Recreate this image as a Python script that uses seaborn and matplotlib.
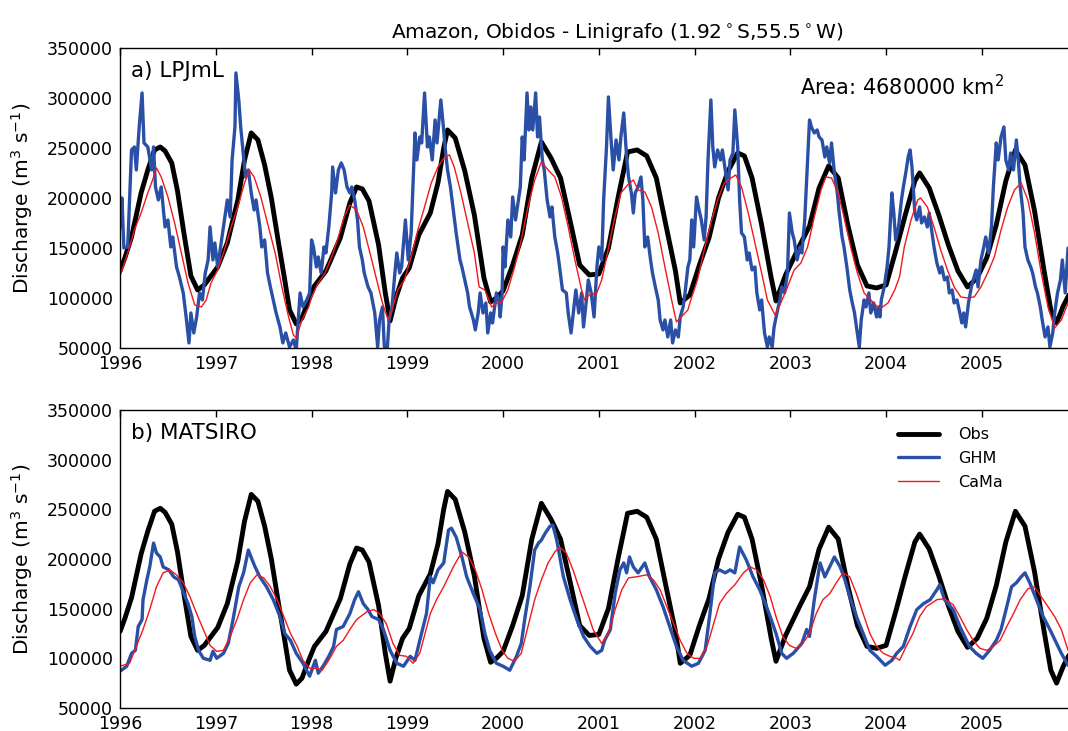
import numpy as np
import pandas as pd
import seaborn as sns
from matplotlib import pyplot as plt

# discharge values, in thousands of m3/s
OBS_YEAR = [1996.00, 1996.05, 1996.12, 1996.22, 1996.29, 1996.36, 1996.42, 1996.47, 1996.54, 1996.60,
            1996.67, 1996.74, 1996.81, 1996.88, 1996.95, 1997.02, 1997.12, 1997.23, 1997.30, 1997.37,
            1997.44, 1997.51, 1997.58, 1997.65, 1997.72, 1997.77, 1997.84, 1997.90, 1997.97, 1998.03,
            1998.15, 1998.30, 1998.40, 1998.47, 1998.53, 1998.60, 1998.70, 1998.77, 1998.82, 1998.88,
            1998.95, 1999.02, 1999.12, 1999.24, 1999.32, 1999.38, 1999.42, 1999.50, 1999.60, 1999.70,
            1999.80, 1999.87, 1999.93, 2000.00, 2000.10, 2000.20, 2000.30, 2000.40, 2000.50, 2000.60,
            2000.70, 2000.80, 2000.90, 2001.00, 2001.10, 2001.20, 2001.30, 2001.40, 2001.50, 2001.60,
            2001.70, 2001.80, 2001.85, 2001.95, 2002.05, 2002.15, 2002.25, 2002.35, 2002.45, 2002.52,
            2002.60, 2002.70, 2002.80, 2002.85, 2002.95, 2003.10, 2003.20, 2003.30, 2003.40, 2003.50,
            2003.60, 2003.70, 2003.80, 2003.90, 2004.00, 2004.10, 2004.20, 2004.30, 2004.35, 2004.45,
            2004.55, 2004.65, 2004.75, 2004.85, 2004.95, 2005.05, 2005.15, 2005.25, 2005.35, 2005.45,
            2005.55, 2005.65, 2005.72, 2005.78, 2005.85, 2005.92]
OBS_Q = [127, 140, 161, 205, 228, 248, 251, 247, 235, 207,
         163, 122, 108, 113, 122, 131, 155, 198, 238, 265,
         258, 233, 200, 158, 118, 88, 74, 80, 98, 112,
         127, 160, 195, 211, 209, 197, 153, 105, 77, 100,
         120, 130, 163, 185, 215, 250, 268, 260, 227, 183,
         120, 96, 100, 107, 133, 163, 220, 256, 240, 220,
         177, 133, 123, 124, 150, 200, 246, 248, 242, 220,
         173, 127, 95, 103, 133, 160, 200, 227, 245, 242,
         220, 173, 120, 97, 123, 153, 172, 210, 232, 220,
         173, 133, 112, 110, 113, 147, 183, 217, 225, 210,
         183, 153, 127, 111, 120, 140, 173, 217, 248, 233,
         187, 127, 88, 75, 92, 105]

LPJ_GHM_YEAR = [1996.00, 1996.02, 1996.04, 1996.08, 1996.12, 1996.15, 1996.17, 1996.20, 1996.23, 1996.25,
                1996.29, 1996.33, 1996.35, 1996.37, 1996.40, 1996.43, 1996.47, 1996.50, 1996.53, 1996.55,
                1996.59, 1996.62, 1996.66, 1996.69, 1996.72, 1996.74, 1996.77, 1996.80, 1996.83, 1996.86,
                1996.89, 1996.92, 1996.94, 1996.97, 1996.99, 1997.02, 1997.06, 1997.09, 1997.12, 1997.15,
                1997.17, 1997.20, 1997.21, 1997.24, 1997.26, 1997.28, 1997.31, 1997.34, 1997.37, 1997.40,
                1997.42, 1997.46, 1997.48, 1997.51, 1997.54, 1997.57, 1997.60, 1997.63, 1997.67, 1997.70,
                1997.73, 1997.77, 1997.81, 1997.84, 1997.88, 1997.91, 1997.95, 1997.98, 1998.00, 1998.02,
                1998.05, 1998.07, 1998.10, 1998.13, 1998.15, 1998.18, 1998.21, 1998.22, 1998.25, 1998.28,
                1998.31, 1998.34, 1998.37, 1998.40, 1998.42, 1998.45, 1998.48, 1998.50, 1998.53, 1998.55,
                1998.59, 1998.62, 1998.66, 1998.69, 1998.71, 1998.74, 1998.76, 1998.79, 1998.81, 1998.84,
                1998.87, 1998.89, 1998.92, 1998.94, 1998.98, 1999.01, 1999.04, 1999.08, 1999.10, 1999.13,
                1999.15, 1999.18, 1999.21, 1999.23, 1999.26, 1999.29, 1999.31, 1999.35, 1999.37, 1999.40,
                1999.42, 1999.45, 1999.48, 1999.51, 1999.55, 1999.57, 1999.60, 1999.63, 1999.65, 1999.69,
                1999.71, 1999.74, 1999.76, 1999.79, 1999.82, 1999.84, 1999.87, 1999.89, 1999.93, 1999.955,
                1999.97, 1999.99, 2000.00, 2000.02, 2000.05, 2000.08, 2000.10, 2000.13, 2000.15, 2000.18,
                2000.20, 2000.22, 2000.25, 2000.27, 2000.29, 2000.31, 2000.34, 2000.36, 2000.38, 2000.41,
                2000.43, 2000.46, 2000.49, 2000.51, 2000.54, 2000.57, 2000.59, 2000.62, 2000.66, 2000.68,
                2000.71, 2000.74, 2000.76, 2000.79, 2000.82, 2000.84, 2000.87, 2000.89, 2000.92, 2000.95,
                2000.98, 2001.00, 2001.03, 2001.05, 2001.08, 2001.10, 2001.13, 2001.15, 2001.18, 2001.21,
                2001.23, 2001.26, 2001.29, 2001.31, 2001.34, 2001.36, 2001.38, 2001.41, 2001.44, 2001.46,
                2001.48, 2001.51, 2001.54, 2001.56, 2001.59, 2001.62, 2001.64, 2001.67, 2001.69, 2001.72,
                2001.75, 2001.77, 2001.80, 2001.83, 2001.85, 2001.88, 2001.90, 2001.93, 2001.95, 2001.97,
                2001.99, 2002.02, 2002.04, 2002.07, 2002.10, 2002.12, 2002.14, 2002.17, 2002.19, 2002.21,
                2002.24, 2002.27, 2002.29, 2002.32, 2002.35, 2002.37, 2002.40, 2002.42, 2002.45, 2002.47,
                2002.49, 2002.52, 2002.55, 2002.57, 2002.60, 2002.63, 2002.65, 2002.68, 2002.70, 2002.73,
                2002.76, 2002.78, 2002.81, 2002.83, 2002.86, 2002.89, 2002.91, 2002.94, 2002.97, 2002.99,
                2003.02, 2003.04, 2003.07, 2003.10, 2003.12, 2003.15, 2003.18, 2003.20, 2003.22, 2003.25,
                2003.28, 2003.30, 2003.33, 2003.36, 2003.38, 2003.41, 2003.43, 2003.46, 2003.49, 2003.51,
                2003.54, 2003.56, 2003.59, 2003.62, 2003.64, 2003.67, 2003.69, 2003.72, 2003.74, 2003.77,
                2003.79, 2003.82, 2003.84, 2003.87, 2003.90, 2003.92, 2003.935, 2003.95, 2003.98, 2004.01,
                2004.03, 2004.06, 2004.08, 2004.10, 2004.13, 2004.16, 2004.18, 2004.21, 2004.23, 2004.25,
                2004.27, 2004.30, 2004.32, 2004.35, 2004.37, 2004.40, 2004.43, 2004.45, 2004.48, 2004.50,
                2004.53, 2004.56, 2004.58, 2004.61, 2004.64, 2004.66, 2004.69, 2004.71, 2004.74, 2004.77,
                2004.79, 2004.81, 2004.83, 2004.86, 2004.89, 2004.91, 2004.94, 2004.96, 2004.99, 2005.02,
                2005.04, 2005.07, 2005.10, 2005.12, 2005.15, 2005.17, 2005.20, 2005.23, 2005.25, 2005.28,
                2005.30, 2005.33, 2005.36, 2005.38, 2005.40, 2005.43, 2005.45, 2005.48, 2005.51, 2005.53,
                2005.56, 2005.58, 2005.61, 2005.63, 2005.66, 2005.69, 2005.71, 2005.74, 2005.76, 2005.79,
                2005.82, 2005.84, 2005.87, 2005.90]
LPJ_GHM_Q = [170, 200, 150, 151, 248, 251, 228, 271, 305, 255,
             251, 228, 251, 211, 198, 211, 171, 178, 151, 161,
             131, 121, 105, 81, 55, 85, 65, 81, 105, 98,
             125, 138, 171, 138, 155, 131, 158, 178, 198, 181,
             238, 271, 325, 298, 271, 251, 221, 228, 205, 188,
             198, 171, 151, 158, 125, 111, 98, 85, 71, 55,
             65, 51, 58, 48, 105, 91, 98, 105, 158, 151,
             131, 141, 125, 151, 145, 171, 205, 231, 205, 228,
             235, 228, 211, 205, 211, 198, 178, 151, 138, 125,
             111, 105, 85, 51, 78, 91, 51, 48, 78, 91,
             125, 145, 125, 131, 178, 138, 165, 265, 238, 261,
             255, 305, 251, 261, 238, 278, 255, 298, 278, 245,
             228, 211, 188, 165, 138, 131, 118, 105, 91, 78,
             68, 85, 105, 85, 95, 65, 85, 75, 105, 98,
             81, 105, 151, 131, 178, 161, 201, 178, 191, 211,
             261, 238, 305, 268, 291, 268, 305, 261, 281, 238,
             228, 198, 181, 191, 161, 145, 131, 108, 105, 85,
             65, 91, 108, 85, 105, 71, 98, 118, 105, 81,
             131, 151, 138, 198, 251, 301, 255, 228, 258, 238,
             261, 285, 241, 221, 205, 185, 205, 211, 221, 198,
             151, 161, 138, 125, 111, 98, 78, 68, 78, 61,
             78, 55, 68, 61, 81, 91, 105, 131, 138, 178,
             151, 201, 191, 178, 158, 181, 238, 298, 251, 231,
             248, 238, 248, 228, 208, 238, 245, 288, 251, 198,
             165, 161, 138, 145, 128, 131, 105, 88, 98, 65,
             51, 61, 51, 71, 85, 98, 111, 105, 125, 185,
             165, 158, 138, 151, 145, 178, 238, 278, 271, 265,
             268, 261, 258, 241, 251, 235, 255, 225, 205, 185,
             161, 151, 131, 108, 98, 85, 71, 51, 78, 98,
             91, 105, 85, 95, 81, 91, 81, 98, 111, 131,
             151, 205, 185, 158, 171, 198, 211, 228, 241, 248,
             231, 185, 178, 191, 175, 181, 171, 185, 165, 151,
             135, 125, 131, 118, 121, 105, 108, 95, 98, 85,
             75, 85, 71, 95, 111, 118, 128, 111, 138, 151,
             161, 145, 171, 211, 255, 238, 261, 271, 238, 228,
             245, 228, 258, 238, 211, 185, 151, 138, 131, 125,
             111, 105, 91, 78, 61, 71, 51, 65, 85, 105,
             118, 138, 105, 150]

LPJ_CAMA_YEAR = [1996.00, 1996.08, 1996.15, 1996.22, 1996.29, 1996.34, 1996.38, 1996.43, 1996.50, 1996.57,
                 1996.64, 1996.71, 1996.78, 1996.85, 1996.90, 1996.95, 1997.02, 1997.09, 1997.16, 1997.23,
                 1997.30, 1997.35, 1997.40, 1997.47, 1997.54, 1997.62, 1997.69, 1997.76, 1997.81, 1997.84,
                 1997.90, 1997.97, 1998.00, 1998.07, 1998.14, 1998.21, 1998.28, 1998.34, 1998.40, 1998.47,
                 1998.54, 1998.61, 1998.68, 1998.74, 1998.80, 1998.83, 1998.90, 1998.97, 1999.04, 1999.11,
                 1999.18, 1999.25, 1999.32, 1999.39, 1999.44, 1999.49, 1999.56, 1999.63, 1999.70, 1999.75,
                 1999.81, 1999.88, 1999.94, 1999.98, 2000.05, 2000.12, 2000.19, 2000.26, 2000.33, 2000.40,
                 2000.47, 2000.54, 2000.61, 2000.68, 2000.75, 2000.82, 2000.85, 2000.92, 2000.97, 2001.03,
                 2001.09, 2001.16, 2001.23, 2001.30, 2001.36, 2001.41, 2001.48, 2001.55, 2001.62, 2001.69,
                 2001.76, 2001.81, 2001.86, 2001.93, 2001.96, 2002.03, 2002.10, 2002.17, 2002.24, 2002.31,
                 2002.38, 2002.43, 2002.49, 2002.56, 2002.63, 2002.70, 2002.76, 2002.84, 2002.90, 2002.97,
                 2003.04, 2003.11, 2003.18, 2003.25, 2003.32, 2003.37, 2003.43, 2003.50, 2003.56, 2003.63,
                 2003.70, 2003.77, 2003.84, 2003.91, 2003.95, 2004.02, 2004.09, 2004.14, 2004.19, 2004.26,
                 2004.33, 2004.36, 2004.43, 2004.50, 2004.57, 2004.64, 2004.71, 2004.78, 2004.85, 2004.92,
                 2004.99, 2005.06, 2005.13, 2005.20, 2005.27, 2005.34, 2005.41, 2005.48, 2005.55, 2005.62,
                 2005.69, 2005.76, 2005.83, 2005.90]
LPJ_CAMA_Q = [122, 145, 168, 185, 205, 218, 230, 221, 201, 175,
              145, 115, 93, 91, 98, 115, 128, 148, 171, 191,
              215, 228, 221, 201, 175, 145, 111, 81, 63, 60,
              78, 91, 101, 115, 125, 141, 161, 181, 193, 188,
              171, 145, 118, 95, 78, 85, 108, 118, 141, 168,
              191, 215, 231, 241, 243, 231, 205, 175, 145, 111,
              108, 91, 95, 95, 108, 131, 158, 191, 218, 236,
              228, 221, 201, 171, 138, 108, 98, 105, 103, 118,
              145, 178, 205, 213, 218, 208, 206, 191, 165, 131,
              98, 76, 81, 88, 98, 118, 148, 175, 198, 215,
              220, 223, 211, 185, 155, 125, 98, 83, 95, 111,
              128, 135, 151, 181, 208, 221, 220, 205, 181, 151,
              125, 105, 98, 91, 90, 95, 108, 121, 151, 178,
              198, 200, 191, 171, 148, 128, 111, 101, 100, 101,
              111, 125, 141, 168, 191, 208, 215, 198, 165, 125,
              91, 70, 78, 95]

MAT_GHM_YEAR = [1996.00, 1996.07, 1996.12, 1996.16, 1996.19, 1996.23, 1996.24, 1996.28, 1996.31, 1996.35,
                1996.38, 1996.42, 1996.45, 1996.51, 1996.56, 1996.61, 1996.64, 1996.68, 1996.71, 1996.75,
                1996.78, 1996.82, 1996.87, 1996.94, 1996.97, 1997.01, 1997.08, 1997.13, 1997.18, 1997.24,
                1997.29, 1997.34, 1997.38, 1997.41, 1997.46, 1997.53, 1997.60, 1997.67, 1997.72, 1997.78,
                1997.84, 1997.91, 1997.98, 1998.04, 1998.07, 1998.12, 1998.18, 1998.23, 1998.26, 1998.33,
                1998.40, 1998.45, 1998.49, 1998.54, 1998.59, 1998.63, 1998.70, 1998.75, 1998.82, 1998.89,
                1998.96, 1999.03, 1999.08, 1999.13, 1999.20, 1999.24, 1999.27, 1999.32, 1999.38, 1999.43,
                1999.46, 1999.51, 1999.57, 1999.62, 1999.69, 1999.76, 1999.81, 1999.86, 1999.93, 2000.00,
                2000.07, 2000.14, 2000.19, 2000.23, 2000.28, 2000.33, 2000.37, 2000.40, 2000.44, 2000.49,
                2000.52, 2000.56, 2000.63, 2000.70, 2000.77, 2000.84, 2000.91, 2000.98, 2001.03, 2001.06,
                2001.12, 2001.17, 2001.22, 2001.26, 2001.29, 2001.32, 2001.36, 2001.41, 2001.48, 2001.53,
                2001.60, 2001.67, 2001.74, 2001.81, 2001.88, 2001.97, 2002.04, 2002.11, 2002.16, 2002.21,
                2002.26, 2002.32, 2002.37, 2002.42, 2002.47, 2002.54, 2002.61, 2002.68, 2002.75, 2002.80,
                2002.85, 2002.91, 2002.96, 2003.03, 2003.12, 2003.17, 2003.20, 2003.25, 2003.31, 2003.36,
                2003.41, 2003.46, 2003.52, 2003.57, 2003.62, 2003.69, 2003.76, 2003.83, 2003.90, 2003.99,
                2004.06, 2004.11, 2004.18, 2004.25, 2004.32, 2004.39, 2004.46, 2004.53, 2004.56, 2004.61,
                2004.70, 2004.77, 2004.87, 2004.94, 2005.01, 2005.08, 2005.15, 2005.20, 2005.26, 2005.31,
                2005.36, 2005.41, 2005.45, 2005.50, 2005.57, 2005.64, 2005.71, 2005.78, 2005.83, 2005.90]
MAT_GHM_Q = [87, 92, 105, 108, 132, 139, 159, 179, 192, 216,
             206, 202, 192, 189, 182, 179, 172, 162, 155, 142,
             122, 108, 100, 98, 107, 100, 105, 115, 139, 172,
             186, 209, 199, 192, 182, 172, 159, 142, 125, 118,
             105, 95, 82, 98, 85, 92, 102, 112, 129, 132,
             145, 159, 167, 155, 149, 142, 139, 129, 108, 95,
             92, 102, 98, 118, 145, 182, 176, 189, 196, 229,
             231, 222, 202, 182, 165, 149, 125, 108, 95, 92,
             88, 102, 115, 142, 172, 209, 216, 219, 226, 233,
             234, 219, 182, 159, 139, 122, 112, 105, 108, 118,
             129, 165, 189, 196, 186, 202, 192, 186, 196, 182,
             169, 152, 132, 112, 98, 92, 95, 108, 145, 186,
             189, 186, 189, 186, 212, 199, 182, 169, 152, 139,
             125, 105, 100, 105, 115, 129, 122, 159, 196, 182,
             192, 202, 192, 179, 162, 142, 125, 108, 102, 93,
             98, 105, 112, 132, 149, 155, 159, 169, 174, 159,
             149, 132, 112, 105, 100, 108, 118, 129, 152, 172,
             176, 182, 186, 176, 159, 142, 129, 115, 105, 93]

MAT_CAMA_YEAR = [1996.00, 1996.10, 1996.17, 1996.24, 1996.31, 1996.38, 1996.45, 1996.52, 1996.59, 1996.66,
                 1996.73, 1996.80, 1996.87, 1996.94, 1997.01, 1997.08, 1997.15, 1997.22, 1997.29, 1997.36,
                 1997.43, 1997.50, 1997.57, 1997.64, 1997.71, 1997.78, 1997.85, 1997.91, 1997.98, 1998.05,
                 1998.11, 1998.18, 1998.26, 1998.33, 1998.40, 1998.47, 1998.58, 1998.65, 1998.71, 1998.78,
                 1998.85, 1998.92, 1998.99, 1999.06, 1999.13, 1999.24, 1999.31, 1999.38, 1999.48, 1999.57,
                 1999.64, 1999.71, 1999.78, 1999.85, 1999.92, 1999.99, 2000.05, 2000.12, 2000.19, 2000.26,
                 2000.33, 2000.40, 2000.47, 2000.54, 2000.59, 2000.66, 2000.73, 2000.80, 2000.87, 2000.94,
                 2001.03, 2001.10, 2001.17, 2001.24, 2001.31, 2001.39, 2001.50, 2001.57, 2001.64, 2001.71,
                 2001.78, 2001.85, 2001.92, 2001.99, 2002.06, 2002.13, 2002.20, 2002.26, 2002.33, 2002.42,
                 2002.51, 2002.58, 2002.65, 2002.72, 2002.79, 2002.85, 2002.92, 2002.99, 2003.06, 2003.13,
                 2003.20, 2003.27, 2003.34, 2003.41, 2003.48, 2003.55, 2003.62, 2003.69, 2003.76, 2003.83,
                 2003.90, 2003.97, 2004.04, 2004.11, 2004.14, 2004.21, 2004.28, 2004.35, 2004.42, 2004.53,
                 2004.61, 2004.70, 2004.77, 2004.84, 2004.91, 2004.98, 2005.05, 2005.12, 2005.19, 2005.26,
                 2005.33, 2005.40, 2005.48, 2005.55, 2005.62, 2005.69, 2005.76, 2005.83, 2005.90]
MAT_CAMA_Q = [92, 95, 112, 129, 149, 172, 186, 189, 184, 176,
              162, 145, 129, 113, 107, 108, 122, 139, 159, 176,
              184, 181, 172, 159, 142, 125, 112, 98, 90, 90,
              88, 98, 112, 118, 129, 139, 147, 149, 145, 135,
              115, 103, 102, 95, 105, 145, 160, 172, 192, 207,
              202, 189, 169, 145, 125, 108, 100, 97, 105, 132,
              159, 179, 196, 207, 212, 206, 189, 169, 149, 129,
              115, 125, 149, 169, 181, 182, 184, 179, 169, 152,
              135, 118, 105, 100, 100, 112, 135, 155, 165, 174,
              186, 192, 189, 179, 162, 142, 122, 113, 110, 115,
              125, 145, 159, 165, 176, 186, 182, 165, 145, 125,
              112, 105, 102, 100, 98, 112, 125, 142, 152, 159,
              160, 154, 142, 129, 118, 110, 108, 112, 118, 132,
              145, 159, 170, 172, 162, 152, 142, 129, 108]

YEAR_TICKS = list(range(1996, 2006))
Q_TICKS = [50000, 100000, 150000, 200000, 250000, 300000, 350000]

COLORS = {"Obs": "black", "GHM": "#2a4fa6", "CaMa": "#f2181d"}
WIDTHS = {"Obs": 3.5, "GHM": 2.4, "CaMa": 1.0}


def series_frame(year, q_k):
    return pd.DataFrame({"year": year, "q": np.asarray(q_k, dtype=float) * 1000})


def draw_panel(ax, ghm, cama, label):
    for name, df in [("Obs", series_frame(OBS_YEAR, OBS_Q)), ("GHM", ghm), ("CaMa", cama)]:
        sns.lineplot(data=df, x="year", y="q", ax=ax, color=COLORS[name], lw=WIDTHS[name],
                     label=name, estimator=None, sort=False)
    ax.set_xlim(1996, 2006.38)
    ax.set_ylim(50000, 350000)
    ax.set_xticks(YEAR_TICKS)
    ax.set_xticklabels([str(y) for y in YEAR_TICKS])
    ax.set_yticks(Q_TICKS)
    ax.set_yticklabels([str(v) for v in Q_TICKS])
    ax.tick_params(direction="in", top=True, right=True, length=5, width=1, labelsize=12.5, pad=5,
                   colors="black")
    ax.set_xlabel("")
    ax.set_ylabel("Discharge (m$^3$ s$^{-1}$)", fontsize=14.5, color="black")
    ax.yaxis.set_label_coords(-0.086, 0.5)
    for side in ax.spines.values():
        side.set_color("black")
        side.set_linewidth(1.0)
    ax.text(0.011, 0.955, label, transform=ax.transAxes, ha="left", va="top", fontsize=15.5, color="black")


sns.set_theme(style="white")
plt.rcParams["font.family"] = ["DejaVu Sans"]
plt.rcParams["text.color"] = "black"

fig = plt.figure(figsize=(10.68, 7.31), dpi=100)
ax_a = fig.add_axes([0.1124, 0.524, 0.9307, 0.4104])
ax_b = fig.add_axes([0.1124, 0.0315, 0.9307, 0.4077])

draw_panel(ax_a, series_frame(LPJ_GHM_YEAR, LPJ_GHM_Q), series_frame(LPJ_CAMA_YEAR, LPJ_CAMA_Q), "a) LPJmL")
draw_panel(ax_b, series_frame(MAT_GHM_YEAR, MAT_GHM_Q), series_frame(MAT_CAMA_YEAR, MAT_CAMA_Q), "b) MATSIRO")

ax_a.get_legend().remove()
ax_a.text(0.787, 0.87, "Area: 4680000 km$^2$", transform=ax_a.transAxes, ha="center", va="center",
          fontsize=15, color="black")
ax_a.set_title("Amazon, Obidos - Linigrafo (1.92$^\\circ$S,55.5$^\\circ$W)", fontsize=14.5, pad=7,
               color="black")

leg = ax_b.legend(loc="upper left", bbox_to_anchor=(0.768, 0.99), frameon=False, fontsize=11.5,
                  handlelength=2.6, handletextpad=1.2, labelspacing=0.55)
for t in leg.get_texts():
    t.set_color("black")

fig.savefig("out.png", dpi=100)
